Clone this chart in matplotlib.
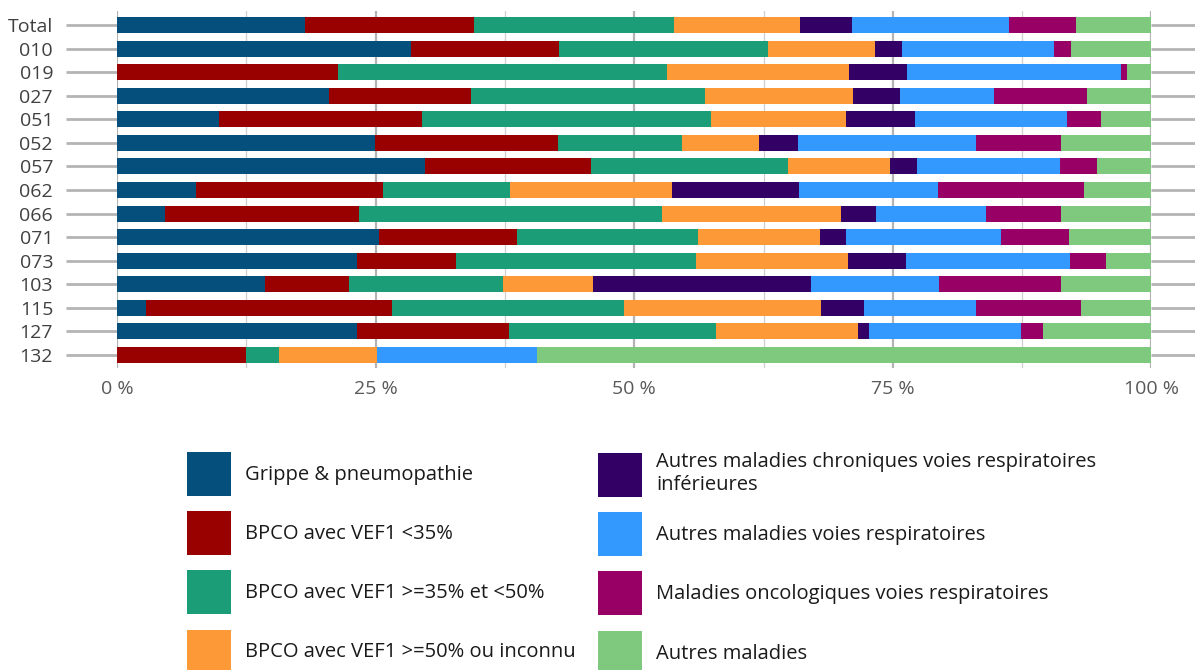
import matplotlib.pyplot as plt
from matplotlib.patches import Patch
from matplotlib.ticker import FixedLocator

plt.rcParams['font.family'] = ['Open Sans', 'DejaVu Sans']

rows = ["Total", "010", "019", "027", "051", "052", "057", "062",
        "066", "071", "073", "103", "115", "127", "132"]

# share of each group per row, in %
grippe =      [18.2, 28.4, 0.0, 20.5, 9.9, 24.9, 29.8, 7.6, 4.6, 25.3, 23.2, 14.3, 2.8, 23.2, 0.0]
bpco_lt35 =   [16.3, 14.3, 21.4, 13.7, 19.6, 17.7, 16.0, 18.1, 18.8, 13.4, 9.6, 8.1, 23.8, 14.7, 12.5]
bpco_35_50 =  [19.3, 20.2, 31.8, 22.6, 27.9, 12.0, 19.1, 12.3, 29.3, 17.5, 23.2, 14.9, 22.4, 20.0, 3.2]
bpco_ge50 =   [12.2, 10.4, 17.6, 14.4, 13.1, 7.5, 9.8, 15.7, 17.3, 11.8, 14.7, 8.7, 19.1, 13.7, 9.4]
chron_inf =   [5.1, 2.6, 5.6, 4.5, 6.6, 3.7, 2.6, 12.2, 3.4, 2.5, 5.6, 21.1, 4.1, 1.1, 0.0]
autres_resp = [15.1, 14.7, 20.7, 9.1, 14.7, 17.2, 13.9, 13.5, 10.6, 15.0, 15.8, 12.4, 10.8, 14.7, 15.5]
onco =        [6.5, 1.6, 0.5, 9.0, 3.3, 8.3, 3.5, 14.1, 7.3, 6.5, 3.5, 11.8, 10.2, 2.1, 0.0]
autres =      [7.3, 7.8, 2.4, 6.2, 4.9, 8.7, 5.3, 6.5, 8.7, 8.0, 4.4, 8.7, 6.8, 10.5, 59.4]

series = [
    ("Grippe & pneumopathie", grippe, "#054f7d"),
    ("BPCO avec VEF1 <35%", bpco_lt35, "#990000"),
    ("BPCO avec VEF1 >=35% et <50%", bpco_35_50, "#1b9e77"),
    ("BPCO avec VEF1 >=50% ou inconnu", bpco_ge50, "#fd9a37"),
    ("Autres maladies chroniques voies respiratoires\ninférieures", chron_inf, "#330066"),
    ("Autres maladies voies respiratoires", autres_resp, "#3399ff"),
    ("Maladies oncologiques voies respiratoires", onco, "#990066"),
    ("Autres maladies", autres, "#7fc97f"),
]

fig = plt.figure(figsize=(11.95, 6.70), dpi=100)
ax = fig.add_axes([117 / 1195, 1 - 368 / 670, (1151.4 - 117) / 1195, 357 / 670])

ypos = list(range(len(rows)))
left = [0.0] * len(rows)
for name, vals, col in series:
    ax.barh(ypos, vals, left=left, height=0.68, color=col, linewidth=0, zorder=3)
    left = [a + b for a, b in zip(left, vals)]

ax.set_xlim(0, 100)
ax.set_ylim(14.56, -0.6)
for s in ax.spines.values():
    s.set_visible(False)

ax.xaxis.set_major_locator(FixedLocator([0, 25, 50, 75, 100]))
ax.xaxis.set_minor_locator(FixedLocator([12.5, 37.5, 62.5, 87.5]))
ax.set_xticklabels(["0 %", "25 %", "50 %", "75 %", "100 %"])
ax.grid(axis='x', which='major', color='#b4b4b4', linewidth=1.6, zorder=0)
ax.grid(axis='x', which='minor', color='#cfcfcf', linewidth=0.9, zorder=0)
ax.tick_params(axis='x', which='both', length=0, pad=9, labelsize=14, labelcolor='#595959')

ax.set_yticks(ypos)
ax.set_yticklabels(rows)
ax.tick_params(axis='y', left=True, right=True, length=37, width=2, color='#b4b4b4',
               pad=9, labelsize=14, labelcolor='#404040')

handles = [Patch(facecolor=c, edgecolor='none', label=n) for n, v, c in series]
leg_kw = dict(frameon=False, fontsize=14.5, handlelength=2.19, handleheight=2.99,
              handletextpad=0.7, labelspacing=0.75, borderpad=0, borderaxespad=0,
              labelcolor='#1a1a1a', loc='upper left')
fig.legend(handles=handles[:4], bbox_to_anchor=(187 / 1195, 1 - 452 / 670), **leg_kw)
fig.legend(handles=handles[4:], bbox_to_anchor=(598 / 1195, 1 - 452 / 670), **leg_kw)

fig.savefig("out.png", dpi=100)
